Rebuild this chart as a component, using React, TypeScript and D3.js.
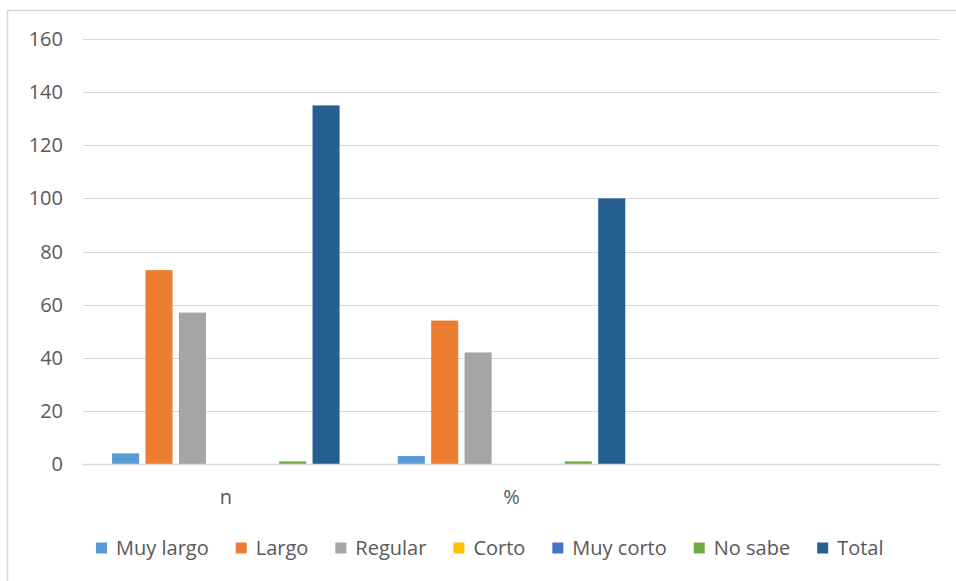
import React, { useEffect, useRef } from "react";
import * as d3 from "d3";

// Categories on the x axis (the third slot is left empty)
const categories = ["n", "%", ""];
const seriesNames = ["Muy largo", "Largo", "Regular", "Corto", "Muy corto", "No sabe", "Total"];
const seriesColors = ["#5B9BD5", "#ED7D31", "#A5A5A5", "#FFC000", "#4472C4", "#70AD47", "#255E91"];
// Values per series, one entry per category
const muyLargo = [4, 3, 0];
const largo = [73, 54, 0];
const regular = [57, 42, 0];
const corto = [0, 0, 0];
const muyCorto = [0, 0, 0];
const noSabe = [1, 1, 0];
const total = [135, 100, 0];
const yTicks = [0, 20, 40, 60, 80, 100, 120, 140, 160];

const W = 956;
const H = 581;
const FONT = "'Open Sans', 'Liberation Sans', sans-serif";
const FS = 20;
const TEXT = "#595959";
const GRID = "#d9d9d9";

export default function App() {
  const ref = useRef<SVGSVGElement>(null);

  useEffect(() => {
    const svg = d3.select(ref.current);
    svg.selectAll("*").remove();

    const seriesValues = [muyLargo, largo, regular, corto, muyCorto, noSabe, total];
    const plot = { left: 83, right: 940, top: 39, bottom: 464 };

    // chart frame
    svg.append("rect")
      .attr("x", 7.5).attr("y", 10.5)
      .attr("width", W).attr("height", H)
      .attr("fill", "#fff").attr("stroke", GRID).attr("stroke-width", 1.5);

    const y = d3.scaleLinear().domain([0, 160]).range([plot.bottom, plot.top]);
    const x0 = d3.scaleBand<string>().domain(categories.map((c, i) => String(i))).range([plot.left, plot.right]);
    const x1 = d3.scaleBand<string>()
      .domain(seriesNames)
      .range([0, x0.bandwidth()])
      .paddingInner(0.19)
      .paddingOuter(0.87);

    // gridlines
    svg.append("g").selectAll("line").data(yTicks.filter((t) => t !== 0)).join("line")
      .attr("x1", plot.left).attr("x2", plot.right)
      .attr("y1", (d) => Math.round(y(d)) + 0.5).attr("y2", (d) => Math.round(y(d)) + 0.5)
      .attr("stroke", GRID).attr("stroke-width", 1);

    // tick labels
    svg.append("g").selectAll("text").data(yTicks).join("text")
      .attr("x", 63).attr("y", (d) => y(d))
      .attr("dy", "0.35em")
      .attr("text-anchor", "end")
      .attr("font-family", FONT).attr("font-size", FS).attr("fill", TEXT)
      .text((d) => d);

    // bars
    const groups = svg.append("g").selectAll("g").data(categories).join("g")
      .attr("transform", (_, i) => `translate(${x0(String(i))},0)`);
    groups.selectAll("rect")
      .data((_, ci) => seriesNames.map((name, si) => ({ name, si, v: seriesValues[si][ci] })))
      .join("rect")
      .attr("x", (d) => x1(d.name)!)
      .attr("width", x1.bandwidth())
      .attr("y", (d) => y(d.v))
      .attr("height", (d) => y(0) - y(d.v))
      .attr("fill", (d) => seriesColors[d.si]);

    // category axis line
    svg.append("line")
      .attr("x1", plot.left).attr("x2", plot.right)
      .attr("y1", plot.bottom + 0.5).attr("y2", plot.bottom + 0.5)
      .attr("stroke", GRID).attr("stroke-width", 1.5);

    // category labels
    svg.append("g").selectAll("text").data(categories).join("text")
      .attr("x", (_, i) => x0(String(i))! + x0.bandwidth() / 2)
      .attr("y", 497).attr("dy", "0.35em")
      .attr("text-anchor", "middle")
      .attr("font-family", FONT).attr("font-size", FS).attr("fill", TEXT)
      .text((d) => d);

    // legend, laid out left to right from measured label widths
    const legend = svg.append("g");
    let cx = 96;
    const ly = 548;
    seriesNames.forEach((name, i) => {
      legend.append("rect")
        .attr("x", cx).attr("y", ly - 5.5)
        .attr("width", 11).attr("height", 11)
        .attr("fill", seriesColors[i]);
      const t = legend.append("text")
        .attr("x", cx + 20).attr("y", ly).attr("dy", "0.35em")
        .attr("font-family", FONT).attr("font-size", FS).attr("fill", TEXT)
        .text(name);
      const w = (t.node() as SVGTextElement).getComputedTextLength();
      cx += 20 + w + 27;
    });
  }, []);

  return (
    <svg
      ref={ref}
      width={W}
      height={H}
      style={{ position: "absolute", left: 0, top: 0, background: "#fff" }}
    />
  );
}
